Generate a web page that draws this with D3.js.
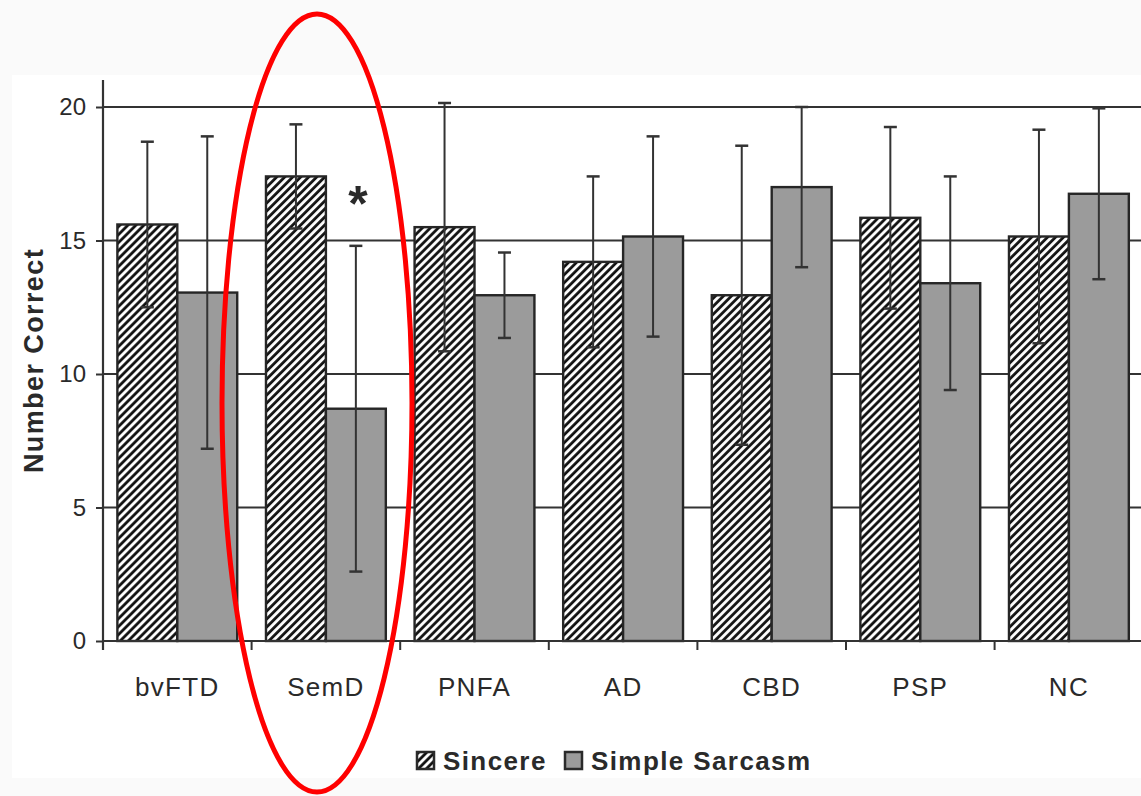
<!DOCTYPE html>
<html>
<head>
<meta charset="utf-8">
<script src="https://cdn.jsdelivr.net/npm/d3@7"></script>
<style>
  html, body { margin: 0; padding: 0; background: #fafafa; }
  svg { display: block; }
  text { font-family: "Liberation Sans", Arial, sans-serif; fill: #2a2a2a; }
</style>
</head>
<body>
<div id="chart"></div>
<script>
const groups = ['bvFTD', 'SemD', 'PNFA', 'AD', 'CBD', 'PSP', 'NC'];
const series = ['Sincere', 'Simple Sarcasm'];
const sincere = [15.6, 17.4, 15.5, 14.2, 12.95, 15.85, 15.15];
const sincereErr = [3.1, 1.95, 4.65, 3.2, 5.6, 3.4, 4.0];
const sarcasm = [13.05, 8.7, 12.95, 15.15, 17.0, 13.4, 16.75];
const sarcasmErr = [5.85, 6.1, 1.6, 3.75, 3.0, 4.0, 3.2];
const yTicks = [0, 5, 10, 15, 20];
const starAt = { group: 'SemD', series: 'Simple Sarcasm', value: 16.75 };

const width = 1141, height = 796;
const plotLeft = 103, plotBottom = 641, plotTop = 107, step = 148.6;

const svg = d3.select('#chart').append('svg').attr('width', width).attr('height', height);

// hatch for Sincere bars, "/" stripes about 8px apart
const defs = svg.append('defs');
const pw = 8 / Math.SQRT2;
const hatch = defs.append('pattern')
  .attr('id', 'hatch').attr('patternUnits', 'userSpaceOnUse')
  .attr('width', pw).attr('height', pw)
  .attr('patternTransform', 'rotate(45)');
hatch.append('rect').attr('width', pw).attr('height', pw).attr('fill', '#fff');
hatch.append('line').attr('x1', 1.5).attr('x2', 1.5).attr('y1', 0).attr('y2', pw)
  .attr('stroke', '#111').attr('stroke-width', 2.8);

svg.append('rect').attr('x', 12).attr('y', 75).attr('width', width - 12).attr('height', 703).attr('fill', '#fff');

const x0 = d3.scaleBand().domain(groups).range([plotLeft, plotLeft + step * groups.length]).padding(0);
const x1 = d3.scaleBand().domain(series).range([0, x0.bandwidth()]).paddingInner(0).paddingOuter(0.24);
const y = d3.scaleLinear().domain([0, 20]).range([plotBottom, plotTop]);

const rows = groups.map((g, i) => ({
  group: g,
  bars: [
    { series: 'Sincere', value: sincere[i], err: sincereErr[i] },
    { series: 'Simple Sarcasm', value: sarcasm[i], err: sarcasmErr[i] }
  ]
}));

// gridlines
svg.append('g').selectAll('line').data(yTicks.filter(t => t > 0)).join('line')
  .attr('x1', plotLeft).attr('x2', width)
  .attr('y1', d => y(d)).attr('y2', d => y(d))
  .attr('stroke', '#333').attr('stroke-width', 2.2);

// bars
const groupG = svg.append('g').selectAll('g').data(rows).join('g')
  .attr('transform', d => `translate(${x0(d.group)},0)`);

groupG.selectAll('rect').data(d => d.bars).join('rect')
  .attr('x', d => x1(d.series))
  .attr('y', d => y(d.value))
  .attr('width', x1.bandwidth())
  .attr('height', d => y(0) - y(d.value))
  .attr('fill', d => d.series === 'Sincere' ? 'url(#hatch)' : '#9b9b9b')
  .attr('stroke', '#262626').attr('stroke-width', 2.4);

// error bars
const capW = 13;
const err = groupG.selectAll('g.err').data(d => d.bars).join('g').classed('err', true)
  .attr('transform', d => `translate(${x1(d.series) + x1.bandwidth() / 2},0)`);
err.append('line')
  .attr('y1', d => y(d.value + d.err))
  .attr('y2', d => y(d.value - d.err))
  .attr('stroke', '#333').attr('stroke-width', 2);
err.selectAll('line.cap').data(d => [d.value + d.err, d.value - d.err]).join('line')
  .classed('cap', true)
  .attr('x1', -capW / 2).attr('x2', capW / 2)
  .attr('y1', v => y(v)).attr('y2', v => y(v))
  .attr('stroke', '#333').attr('stroke-width', 2.5);

// y axis
const yAxis = svg.append('g').attr('transform', `translate(${plotLeft},0)`)
  .call(d3.axisLeft(y).tickValues(yTicks).tickSize(7).tickPadding(10));
yAxis.select('.domain').remove();
yAxis.selectAll('.tick line').attr('stroke', '#333').attr('stroke-width', 2);
yAxis.selectAll('.tick text').attr('font-size', 24).attr('letter-spacing', 0)
  .attr('fill', '#2a2a2a').attr('font-family', '"Liberation Sans", Arial, sans-serif');
svg.append('line').attr('x1', plotLeft).attr('x2', plotLeft).attr('y1', 80).attr('y2', plotBottom + 9)
  .attr('stroke', '#333').attr('stroke-width', 2.2);

// x axis
svg.append('line').attr('x1', plotLeft).attr('x2', width).attr('y1', plotBottom).attr('y2', plotBottom)
  .attr('stroke', '#333').attr('stroke-width', 2.2);
svg.append('g').selectAll('line').data(groups.slice(1)).join('line')
  .attr('x1', d => x0(d)).attr('x2', d => x0(d))
  .attr('y1', plotBottom).attr('y2', plotBottom + 9)
  .attr('stroke', '#333').attr('stroke-width', 2);
svg.append('g').selectAll('text').data(groups).join('text')
  .attr('x', d => x0(d) + x0.bandwidth() / 2)
  .attr('y', 696)
  .attr('text-anchor', 'middle')
  .attr('font-size', 26).attr('letter-spacing', 1.3)
  .text(d => d);

// y title
svg.append('text')
  .attr('transform', `translate(43,${(plotBottom + 80) / 2}) rotate(-90)`)
  .attr('text-anchor', 'middle')
  .attr('font-size', 27).attr('font-weight', 'bold').attr('letter-spacing', 1.4)
  .attr('fill', '#1e1e1e')
  .text('Number Correct');

// significance star
svg.append('text')
  .attr('x', x0(starAt.group) + x1(starAt.series) + x1.bandwidth() / 2 + 2)
  .attr('y', y(starAt.value) + 27)
  .attr('text-anchor', 'middle')
  .attr('font-size', 50).attr('font-weight', 'bold').attr('fill', '#222')
  .text('*');

// legend
const legend = svg.append('g').attr('transform', 'translate(417,752)');
const items = legend.selectAll('g').data(series).join('g')
  .attr('transform', (d, i) => `translate(${i * 148},0)`);
items.append('rect').attr('width', 17).attr('height', 17)
  .attr('fill', d => d === 'Sincere' ? 'url(#hatch)' : '#9b9b9b')
  .attr('stroke', '#2a2a2a').attr('stroke-width', 2.5);
items.append('text').attr('x', 26).attr('y', 18)
  .attr('font-size', 26).attr('font-weight', 'bold').attr('letter-spacing', 1.4)
  .attr('fill', '#1e1e1e')
  .text(d => d);

// red highlight around SemD
svg.append('ellipse')
  .attr('cx', 317).attr('cy', 403).attr('rx', 95).attr('ry', 389)
  .attr('fill', 'none').attr('stroke', '#ff0000').attr('stroke-width', 5);
</script>
</body>
</html>
